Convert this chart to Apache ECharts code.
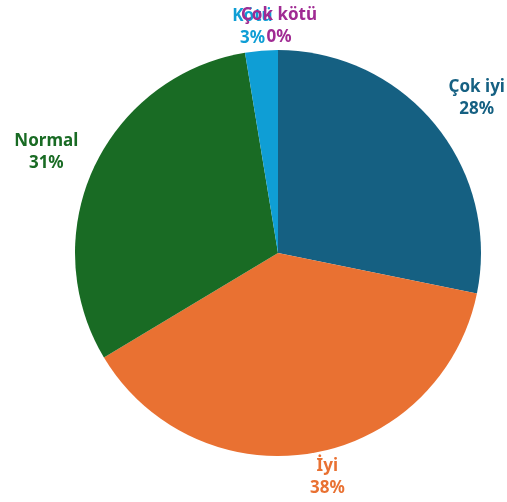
<!DOCTYPE html>
<html>
<head>
<meta charset="utf-8">
<script src="https://cdn.jsdelivr.net/npm/echarts@6/dist/echarts.min.js"></script>
<style>
  html, body { margin: 0; padding: 0; background: #fff; }
  #chart { width: 507px; height: 502px; }
</style>
</head>
<body>
<div id="chart"></div>
<script>
// 数据
var categories = ['Çok iyi', 'İyi', 'Normal', 'Kötü', 'Çok kötü'];
var values = [28.2, 38.2, 31.0, 2.6, 0];
var colors = ['#156082', '#e97132', '#196b24', '#0f9ed5', '#a02b93'];
// 标签离饼图的距离（每个扇区）
var labelLineLen = [42, 24, 38, 24, 24];
var labelDist = [-31, -29, -27, -33, -41];

var chart = echarts.init(document.getElementById('chart'));

var option = {
  animation: false,
  series: [
    {
      type: 'pie',
      center: [278, 253],
      radius: 203,
      startAngle: 90,
      clockwise: true,
      avoidLabelOverlap: false,
      minShowLabelAngle: -1,
      percentPrecision: 0,
      // Excel 里标签是重叠显示的，这里也不隐藏
      labelLayout: { hideOverlap: false },
      label: {
        show: true,
        position: 'outside',
        alignTo: 'none',
        formatter: '{t|{b}}\n{t|{d}%}',
        rich: {
          t: {
            width: 80,
            align: 'center',
            fontFamily: 'Noto Sans',
            fontWeight: 'bold',
            fontSize: 17,
            lineHeight: 22
          }
        }
      },
      labelLine: {
        show: false,
        length2: 0
      },
      data: categories.map(function (name, i) {
        return {
          name: name,
          value: values[i],
          itemStyle: { color: colors[i] },
          labelLine: { length: labelLineLen[i] },
          label: {
            distanceToLabelLine: labelDist[i],
            rich: { t: { color: colors[i] } }
          }
        };
      })
    }
  ]
};

chart.setOption(option);
</script>
</body>
</html>
